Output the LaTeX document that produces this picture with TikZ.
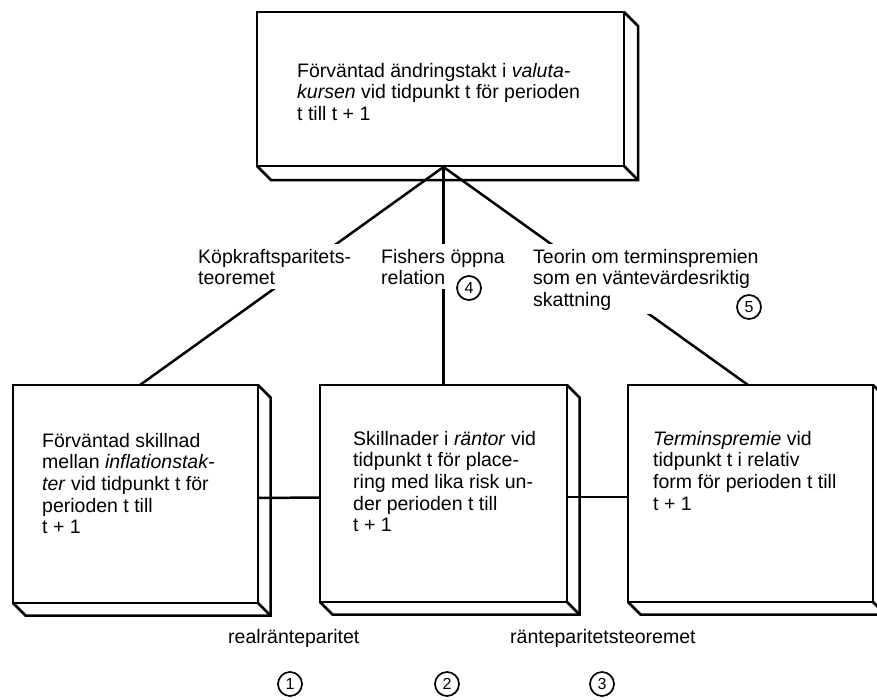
\documentclass[tikz,border=0pt]{standalone}
\usepackage{fontspec}
\setmainfont{Liberation Sans}
\usetikzlibrary{calc}

% strut that fixes the height of the first line of a text block
\newcommand\topstrut{\rule{0pt}{15pt}}
% visible right and bottom faces of a raised box
\newcommand\slabsides[2]{%
  \draw[ink] (#1.north east) -- ++(#2,#2) -- ([shift={(#2,#2)}]#1.south east)
    -- ([shift={(#2,#2)}]#1.south west) -- (#1.south west);
  \draw[ink] (#1.south east) -- ++(#2,#2);}

\tikzset{
  ink/.style={line width=2.5pt, black, line join=miter},
  slab/.style={draw, ink, rectangle, inner sep=0pt, outer sep=0pt, fill=white},
  txt/.style={font=\fontsize{19.5pt}{21.6pt}\selectfont},
  boxtext/.style={txt, anchor=north west, inner sep=0pt, align=left},
  linktext/.style={txt, anchor=north west, inner sep=4pt, align=left, fill=white},
  numcirc/.style={circle, draw, line width=1.7pt, minimum size=24pt, inner sep=0pt,
    fill=white, font=\fontsize{16pt}{16pt}\selectfont},
}

\begin{document}
\begin{tikzpicture}[x=1pt, y=-1pt]
\useasboundingbox (0,0) rectangle (877,699);

% boxes
\node[slab, minimum width=367pt, minimum height=154pt] (top) at (440.5,89) {};
\node[slab, minimum width=245pt, minimum height=218pt] (left) at (135.5,494) {};
\node[slab, minimum width=247pt, minimum height=217pt] (mid) at (443.5,493.5) {};
\node[slab, minimum width=245pt, minimum height=217pt] (right) at (750.5,493.5) {};
\slabsides{top}{14}
\slabsides{left}{12.5}
\slabsides{mid}{12.5}
\slabsides{right}{12.5}

% connectors
\coordinate (apex) at (443.5,167);
\coordinate (lft) at (140,385);
\coordinate (rgt) at (748,385);
\draw[ink] (apex) -- (lft);
\draw[ink] (apex) -- (mid.north);
\draw[ink] (apex) -- (rgt);
\draw[ink] ([yshift=-4pt]left.east) -- ([yshift=-4pt]mid.west);
\draw[ink] ([yshift=-3.5pt]mid.east) -- ([yshift=-3.5pt]right.west);

% box texts
\node[boxtext] (ttop) at (297,62) {\topstrut F\"orv\"antad \"andringstakt i \textit{valuta-}\\
  \textit{kursen} vid tidpunkt t f\"or perioden\\ t till t + 1};
\node[boxtext] (tleft) at (42,432) {\topstrut F\"orv\"antad skillnad\\
  mellan \textit{inflationstak-}\\ \textit{ter} vid tidpunkt t f\"or\\ perioden t till\\ t + 1};
\node[boxtext] (tmid) at (353,430) {\topstrut Skillnader i \textit{r\"antor} vid\\
  tidpunkt t f\"or place-\\ ring med lika risk un-\\ der perioden t till\\ t + 1};
\node[boxtext] (tright) at (653,430) {\topstrut\textit{Terminspremie} vid\\
  tidpunkt t i relativ\\ form f\"or perioden t till\\ t + 1};

% relation labels on the connectors
\node[linktext] (kpp) at (194,244) {\topstrut K\"opkraftsparitets-\\ teoremet};
\node[linktext] (fis) at (377,244) {\topstrut Fishers \"oppna\\ relation};
\node[linktext] (ter) at (529,244) {\topstrut Teorin om terminspremien\\
  som en v\"antev\"ardesriktig\\ skattning};
\node[txt, anchor=base west, inner sep=0pt] (rrp) at (228,643) {realr\"anteparitet};
\node[txt, anchor=base west, inner sep=0pt] (rpt) at (510,643) {r\"anteparitetsteoremet};

% numbered markers
\node[numcirc] (n1) at (290,684) {1};
\node[numcirc] (n2) at (447,684) {2};
\node[numcirc] (n3) at (602,684) {3};
\node[numcirc] (n4) at (469,288) {4};
\node[numcirc] (n5) at (749,307) {5};
\end{tikzpicture}
\end{document}
